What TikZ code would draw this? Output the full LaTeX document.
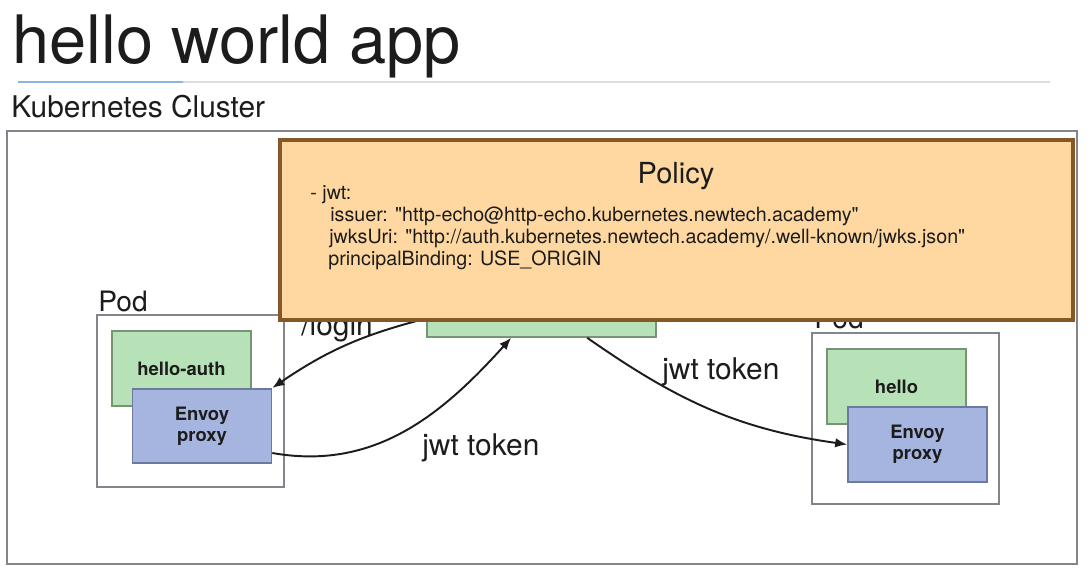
\documentclass[tikz,border=0pt]{standalone}
\usepackage{fontspec}
\setmainfont{TeX Gyre Heros}
\newfontfamily\plainheros{TeX Gyre Heros}
\usepackage{xcolor}
\usetikzlibrary{arrows.meta, calc, fit}
\definecolor{ink}{RGB}{28,28,28}
\definecolor{rule-gray}{RGB}{218,222,224}
\definecolor{rule-blue}{RGB}{140,180,228}
\definecolor{frame-gray}{RGB}{132,132,140}
\definecolor{app-fill}{RGB}{183,225,183}
\definecolor{app-border}{RGB}{118,148,118}
\definecolor{proxy-fill}{RGB}{165,181,224}
\definecolor{proxy-border}{RGB}{108,122,158}
\definecolor{policy-fill}{RGB}{254,216,160}
\definecolor{policy-border}{RGB}{133,88,40}
\tikzset{
  % boxes
  box/.style={rectangle, inner sep=0pt, text=ink},
  cluster-box/.style={box, draw=frame-gray, line width=1.4pt},
  pod-box/.style={box, draw=frame-gray, fill=white, line width=1.2pt},
  gateway-box/.style={box, draw=app-border, fill=app-fill, line width=0.9pt},
  app-box/.style={gateway-box, minimum width=27.8mm, minimum height=15mm, font=\bfseries\fontsize{10.5}{12}\selectfont},
  proxy-box/.style={box, draw=proxy-border, fill=proxy-fill, line width=0.9pt, minimum width=27.8mm, minimum height=14.9mm, align=center, font=\bfseries\fontsize{10.5}{12}\selectfont},
  policy-box/.style={box, draw=policy-border, fill=policy-fill, line width=2pt},
  % texts
  label-text/.style={inner sep=0pt, text=ink, font=\fontsize{17}{20}\selectfont},
  policy-text/.style={anchor=base west, inner sep=0pt, text=ink, font=\plainheros\fontsize{11.2}{13}\selectfont},
  % connectors
  conn/.style={-{Latex[length=2.4mm, width=1.9mm]}, line width=1.1pt, ink}
}
\begin{document}
\begin{tikzpicture}[x=0.2mm, y=0.2mm]
  \useasboundingbox (0,0) rectangle (1088,573);
  % Title and rule
  \node[anchor=base west, inner sep=0pt, text=ink, font=\fontsize{38}{40}\selectfont] (title) at (12,510) {hello world app};
  \coordinate (rule-start) at (18,491);
  \coordinate (rule-mid) at (183,491);
  \coordinate (rule-end) at (1050,491);
  \draw[line width=1.1pt, rule-gray] (rule-start) -- (rule-end);
  \draw[line width=1.1pt, rule-blue] (rule-start) -- (rule-mid);
  \node[label-text, anchor=base west] (cluster-label) at (11,456) {Kubernetes Cluster};
  \node[cluster-box, fit={(7,9) (1077,442)}] (cluster) {};

  % Left pod
  \node[pod-box, fit={(97,86) (284,258)}] (pod-left) {};
  \node[label-text, anchor=base west, font=\fontsize{16}{19}\selectfont] (pod-left-label) at (98,262) {Pod};
  \node[app-box] (hello-auth) at (181.5,204.5) {hello-auth};
  \node[proxy-box] (envoy-left) at (202,147) {Envoy\\proxy};

  % Right pod
  \node[pod-box, fit={(812,69) (999,240)}] (pod-right) {};
  \node[label-text, anchor=base west, font=\fontsize{16}{19}\selectfont] (pod-right-label) at (814,245) {Pod};
  \node[app-box] (hello) at (896.5,186.5) {hello};
  \node[proxy-box] (envoy-right) at (917.5,128.5) {Envoy\\proxy};

  % Gateway box, mostly behind the policy
  \node[gateway-box, fit={(427,236) (656,273)}] (gateway) {};

  % Connectors
  \draw[conn] (gateway.west) to[bend right=10] (envoy-left.north east);
  \draw[conn] ($(envoy-left.east)+(0,-27)$) to[out=-10, in=-132] ($(gateway.south west)+(85,0)$);
  \draw[conn] ($(gateway.south west)+(161,0)$) to[out=-35, in=172] (envoy-right.west);
  \node[label-text, anchor=base west] (login-label) at (301,238) {/login};
  \node[label-text, anchor=base west] (token-left) at (422,118) {jwt token};
  \node[label-text, anchor=base west] (token-right) at (662,194) {jwt token};

  % Policy
  \node[policy-box, fit={(280,253) (1073,433)}] (policy) {};
  \node[anchor=base, inner sep=0pt, text=ink, font=\fontsize{16.5}{19}\selectfont] (policy-title) at (676,390) {Policy};
  \node[policy-text] (jwt-line) at (310,374) {- jwt:};
  \node[policy-text] (issuer-line) at (330,352) {issuer: "http-echo@http-echo.kubernetes.newtech.academy"};
  \node[policy-text] (jwks-line) at (329,330) {jwksUri: "http://auth.kubernetes.newtech.academy/.well-known/jwks.json"};
  \node[policy-text] (binding-line) at (328,308) {principalBinding: USE\_ORIGIN};
\end{tikzpicture}
\end{document}
